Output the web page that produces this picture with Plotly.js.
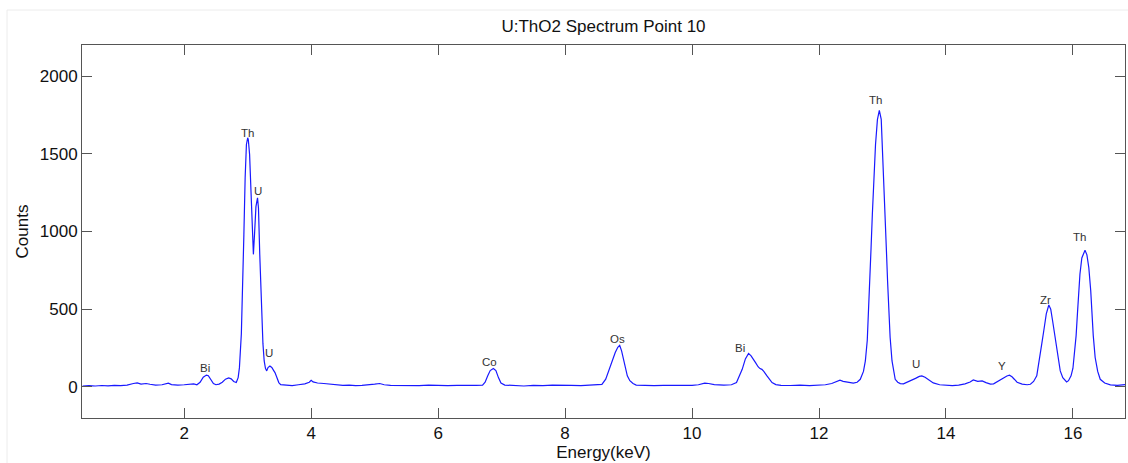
<!DOCTYPE html>
<html>
<head>
<meta charset="utf-8">
<script src="https://cdn.plot.ly/plotly-3.0.1.min.js"></script>
<style>html,body{margin:0;padding:0;background:#fff;}#chart{width:1128px;height:463px;}</style>
</head>
<body>
<div id="chart"></div>
<script>
// Energy (keV) sample positions and counts
const energy = [
0.40,0.50,0.60,0.70,0.80,0.90,1.00,1.10,1.20,1.26,1.32,1.40,1.46,1.55,1.65,1.75,1.80,1.90,2.00,2.10,
2.15,2.20,2.25,2.30,2.35,2.38,2.42,2.46,2.50,2.55,2.60,2.65,2.70,2.74,2.78,2.82,2.85,2.87,2.90,2.92,
2.94,2.96,2.98,3.00,3.01,3.03,3.05,3.07,3.09,3.11,3.13,3.155,3.17,3.19,3.21,3.22,3.24,3.26,3.28,3.30,
3.32,3.35,3.38,3.41,3.43,3.46,3.49,3.52,3.60,3.70,3.80,3.90,3.97,4.00,4.03,4.10,4.20,4.30,4.40,4.50,
4.60,4.70,4.80,4.90,5.00,5.08,5.15,5.25,5.40,5.55,5.70,5.85,6.00,6.15,6.30,6.45,6.60,6.70,6.74,6.78,
6.82,6.87,6.91,6.95,6.99,7.05,7.20,7.35,7.50,7.65,7.80,7.95,8.10,8.25,8.40,8.50,8.58,8.64,8.71,8.76,
8.79,8.83,8.86,8.89,8.92,8.95,8.98,9.02,9.07,9.12,9.25,9.40,9.55,9.70,9.85,10.00,10.10,10.20,10.26,10.35,
10.50,10.62,10.70,10.75,10.79,10.84,10.89,10.93,10.97,11.00,11.04,11.07,11.10,11.13,11.18,11.22,11.26,11.32,11.40,11.55,
11.70,11.85,12.00,12.10,12.20,12.28,12.33,12.38,12.45,12.54,12.60,12.65,12.70,12.73,12.76,12.78,12.80,12.82,12.84,12.86,
12.89,12.92,12.95,12.98,13.00,13.02,13.04,13.06,13.08,13.10,13.12,13.15,13.18,13.20,13.24,13.28,13.33,13.38,13.45,13.52,
13.58,13.62,13.67,13.72,13.80,13.90,14.00,14.10,14.20,14.30,14.38,14.43,14.50,14.57,14.63,14.70,14.75,14.82,14.90,14.96,
15.00,15.04,15.08,15.12,15.20,15.28,15.33,15.38,15.43,15.48,15.51,15.54,15.58,15.62,15.65,15.68,15.71,15.74,15.77,15.80,
15.84,15.88,15.90,15.93,15.97,16.00,16.02,16.05,16.07,16.09,16.11,16.14,16.16,16.19,16.22,16.25,16.28,16.30,16.32,16.35,
16.39,16.43,16.50,16.59,16.70,16.82
];
const counts = [
5,8,6,9,7,10,8,12,22,26,18,22,17,12,14,24,15,12,14,18,
20,14,30,62,76,72,50,22,14,18,30,50,58,52,35,28,60,124,340,617,
980,1346,1560,1603,1590,1496,1300,1120,853,1000,1160,1217,1150,853,600,446,280,167,120,103,
125,135,125,105,92,60,28,15,10,8,14,20,30,43,32,25,22,18,14,10,
12,8,10,12,18,22,14,10,8,10,8,11,9,8,10,8,10,12,30,70,
105,118,105,60,25,12,9,6,10,8,12,9,10,8,12,10,16,50,135,190,
221,255,268,232,178,120,71,40,22,12,9,8,10,9,12,10,14,24,22,15,
12,14,28,70,113,180,216,200,170,156,130,118,113,100,71,45,28,15,10,9,
12,8,10,14,22,38,43,36,30,24,30,49,100,167,300,467,680,896,1110,1325,
1560,1720,1779,1721,1540,1325,1110,896,680,467,320,167,85,49,30,21,20,28,40,55,
68,71,62,48,26,14,10,8,12,20,32,45,36,39,28,18,20,38,55,70,
75,65,48,30,18,14,17,35,71,189,280,360,470,527,500,424,340,253,170,103,
60,36,32,40,71,120,189,330,467,600,725,830,855,879,850,767,620,467,330,189,
100,49,25,13,10,15
];

// Peak labels
const peakLabels = ["Bi","Th","U","U","Co","Os","Bi","Th","U","Y","Zr","Th"];
const labelEnergy = [2.33,3.00,3.16,3.33,6.81,8.83,10.75,12.89,13.53,14.89,15.57,16.10];
const labelCounts = [124,1631,1260,217,161,311,253,1844,150,135,557,965];

const xTicks = [2,4,6,8,10,12,14,16];
const yTicks = [0,500,1000,1500,2000];

const FONT = "Liberation Sans, Arial, Helvetica, sans-serif";

const trace = {
  x: energy, y: counts, type: "scatter", mode: "lines",
  line: {color: "rgb(25,25,255)", width: 1.2},
  hoverinfo: "skip"
};

const annotations = peakLabels.map((t, i) => ({
  x: labelEnergy[i], y: labelCounts[i], xref: "x", yref: "y",
  text: t, showarrow: false,
  font: {family: FONT, size: 11.5, color: "#333"}
}));

const axisCommon = {
  showline: true, mirror: "ticks", linecolor: "#555", linewidth: 1,
  ticks: "inside", ticklen: 10, tickcolor: "#555", tickwidth: 1,
  showgrid: false, zeroline: false,
  tickfont: {family: FONT, size: 17, color: "#111"}
};

const layout = {
  width: 1128, height: 463,
  margin: {l: 82, r: 3, t: 45, b: 45},
  paper_bgcolor: "#fff", plot_bgcolor: "#fff",
  showlegend: false,
  title: {text: "U:ThO2 Spectrum Point 10", x: 0.5, xref: "paper",
          y: 1 - 26/463, yref: "container", yanchor: "middle",
          font: {family: FONT, size: 17, color: "#111"}},
  xaxis: Object.assign({}, axisCommon, {
    range: [0.39, 16.82], tickvals: xTicks, ticktext: xTicks.map(String),
    title: {text: "Energy(keV)", standoff: 2, font: {family: FONT, size: 17, color: "#111"}}
  }),
  yaxis: Object.assign({}, axisCommon, {
    range: [-200, 2200], tickvals: yTicks, ticktext: yTicks.map(String),
    title: {text: "Counts", standoff: 6, font: {family: FONT, size: 17, color: "#111"}}
  }),
  annotations: annotations,
  shapes: [{
    type: "rect", xref: "paper", yref: "paper",
    x0: -0.0719, x1: 1.01, y0: -0.2, y1: 1.0938,
    line: {color: "#ececec", width: 1}, fillcolor: "rgba(0,0,0,0)", layer: "below"
  }]
};

Plotly.newPlot("chart", [trace], layout, {staticPlot: true, displayModeBar: false});
</script>
</body>
</html>
